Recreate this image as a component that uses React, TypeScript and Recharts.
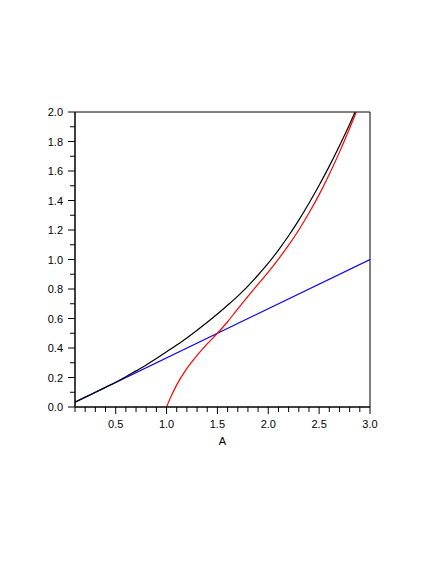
import { LineChart, Line, XAxis, YAxis, ReferenceArea } from 'recharts';

// values
const blackX = [0.1, 0.2, 0.3, 0.4, 0.5, 0.6, 0.7, 0.8, 0.9, 1.0, 1.1, 1.2, 1.3, 1.4, 1.5, 1.6, 1.7, 1.8, 1.9, 2.0, 2.1, 2.2, 2.3, 2.4, 2.5, 2.6, 2.7, 2.8, 2.853];
const blackY = [0.033, 0.067, 0.1, 0.134, 0.168, 0.205, 0.245, 0.285, 0.328, 0.374, 0.42, 0.468, 0.52, 0.574, 0.63, 0.69, 0.752, 0.82, 0.895, 0.975, 1.064, 1.161, 1.267, 1.381, 1.503, 1.633, 1.771, 1.917, 2.0];

const redX = [1.0, 1.03, 1.1, 1.2, 1.3, 1.4, 1.5, 1.6, 1.7, 1.8, 1.9, 2.0, 2.1, 2.2, 2.3, 2.4, 2.5, 2.6, 2.7, 2.8, 2.865];
const redY = [0, 0.05, 0.15, 0.262, 0.35, 0.428, 0.5, 0.578, 0.665, 0.75, 0.833, 0.915, 1.003, 1.097, 1.2, 1.315, 1.44, 1.578, 1.728, 1.89, 2.0];

const blueX = [0.1, 3.0];
const blueY = [0.033, 1.0];

const xTicks = [0.1, 0.2, 0.3, 0.4, 0.5, 0.6, 0.7, 0.8, 0.9, 1.0, 1.1, 1.2, 1.3, 1.4, 1.5, 1.6, 1.7, 1.8, 1.9, 2.0, 2.1, 2.2, 2.3, 2.4, 2.5, 2.6, 2.7, 2.8, 2.9, 3.0];
const yTicks = [0, 0.1, 0.2, 0.3, 0.4, 0.5, 0.6, 0.7, 0.8, 0.9, 1.0, 1.1, 1.2, 1.3, 1.4, 1.5, 1.6, 1.7, 1.8, 1.9, 2.0];

const toPoints = (xs: number[], ys: number[]) => xs.map((x, i) => ({ x, y: ys[i] }));
const blackData = toPoints(blackX, blackY);
const redData = toPoints(redX, redY);
const blueData = toPoints(blueX, blueY);

const FONT = '"Liberation Sans", Arial, sans-serif';

function XTick({ x, y, payload }: any) {
  const v = payload.value;
  const major = Math.abs(v * 2 - Math.round(v * 2)) < 1e-6;
  return (
    <g>
      <line x1={x} x2={x} y1={y} y2={y + (major ? 7 : 5)} stroke="#000" />
      {major && (
        <text x={x} y={y + 21} textAnchor="middle" fontSize={11} fontFamily={FONT} fill="#000">
          {v.toFixed(1)}
        </text>
      )}
    </g>
  );
}

function YTick({ x, y, payload }: any) {
  const v = payload.value;
  const major = Math.abs(v * 5 - Math.round(v * 5)) < 1e-6;
  return (
    <g>
      <line x1={x - (major ? 7 : 5)} x2={x} y1={y} y2={y} stroke="#000" />
      {major && (
        <text x={x - 12} y={y + 4} textAnchor="end" fontSize={11} fontFamily={FONT} fill="#000">
          {v.toFixed(1)}
        </text>
      )}
    </g>
  );
}

export default function App() {
  return (
    <div style={{ width: 420, height: 548 }}>
      <LineChart width={420} height={548} margin={{ top: 104, right: 58, left: 27, bottom: 109 }}>
        <XAxis
          dataKey="x"
          type="number"
          domain={[0.1, 3.0]}
          ticks={xTicks}
          allowDataOverflow
          interval={0}
          height={40}
          tickSize={0}
          tickMargin={0}
          tickLine={false}
          tick={<XTick />}
          axisLine={{ stroke: '#000' }}
          label={{ value: 'A', position: 'insideBottom', offset: 2, fontSize: 11, fill: '#000', fontFamily: FONT }}
        />
        <YAxis
          type="number"
          domain={[0, 2]}
          ticks={yTicks}
          allowDataOverflow
          interval={0}
          width={40}
          tickSize={0}
          tickMargin={0}
          tickLine={false}
          tick={<YTick />}
          axisLine={{ stroke: '#000' }}
        />
        <ReferenceArea x1={0.1} x2={3.0} y1={0} y2={2} fill="none" stroke="#000" strokeWidth={1} />
        <Line data={blueData} dataKey="y" type="linear" stroke="#0000ff" strokeWidth={1.2} dot={false} isAnimationActive={false} />
        <Line data={redData} dataKey="y" type="monotone" stroke="#ff0000" strokeWidth={1.2} dot={false} isAnimationActive={false} />
        <Line data={blackData} dataKey="y" type="monotone" stroke="#000000" strokeWidth={1.2} dot={false} isAnimationActive={false} />
      </LineChart>
    </div>
  );
}
